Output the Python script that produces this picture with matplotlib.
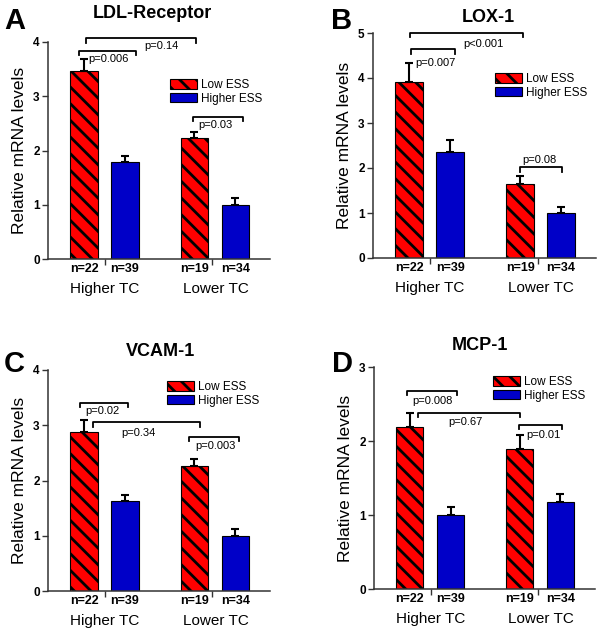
import matplotlib
matplotlib.use("Agg")
import matplotlib.pyplot as plt
import numpy as np

plt.rcParams["font.family"] = ["Liberation Sans", "DejaVu Sans"]
plt.rcParams["hatch.linewidth"] = 2.0
plt.rcParams["hatch.color"] = "black"

# data
groups = ["Higher TC", "Lower TC"]
series = ["Low ESS", "Higher ESS"]
n_low = ["n=22", "n=19"]
n_high = ["n=39", "n=34"]

titles = ["LDL-Receptor", "LOX-1", "VCAM-1", "MCP-1"]
letters = ["A", "B", "C", "D"]
ymax = [4, 5, 4, 3]

ldl_low = [3.47, 2.23]
ldl_low_err = [0.22, 0.11]
ldl_high = [1.79, 1.0]
ldl_high_err = [0.11, 0.12]

lox_low = [3.91, 1.64]
lox_low_err = [0.42, 0.18]
lox_high = [2.36, 1.0]
lox_high_err = [0.26, 0.13]

vcam_low = [2.88, 2.26]
vcam_low_err = [0.21, 0.13]
vcam_high = [1.63, 1.0]
vcam_high_err = [0.11, 0.12]

mcp_low = [2.19, 1.89]
mcp_low_err = [0.19, 0.19]
mcp_high = [1.0, 1.18]
mcp_high_err = [0.11, 0.10]

ldl_p = ["p=0.14", "p=0.006", "p=0.03"]
lox_p = ["p<0.001", "p=0.007", "p=0.08"]
vcam_p = ["p=0.02", "p=0.34", "p=0.003"]
mcp_p = ["p=0.008", "p=0.67", "p=0.01"]

low_vals = [ldl_low, lox_low, vcam_low, mcp_low]
low_errs = [ldl_low_err, lox_low_err, vcam_low_err, mcp_low_err]
high_vals = [ldl_high, lox_high, vcam_high, mcp_high]
high_errs = [ldl_high_err, lox_high_err, vcam_high_err, mcp_high_err]
pvals = [ldl_p, lox_p, vcam_p, mcp_p]

W, H = 604, 636
fig = plt.figure(figsize=(W / 100, H / 100), dpi=100)

def px(x, y):
    return x / W, 1 - y / H

# axes boxes in pixels: left, right, top, bottom
boxes = [(48, 270, 42, 259), (373, 596, 33, 258),
         (48, 270, 370, 591), (374, 595, 367, 589)]
title_pos = [(152, 14), (488, 17), (160, 352), (480, 345)]
letter_pos = [(4, 21), (331, 21), (4, 364), (332, 364)]
legend_pos = [(170, 79), (495, 73), (167, 381), (493, 376)]

# brackets: (x1, x2, top, leg bottom, text x, text y)
brackets = [
    [(0.05, 2.75, 4.07, 3.98, 1.9, 3.93), (-0.12, 1.27, 3.83, 3.76, 0.61, 3.69),
     (2.66, 3.90, 2.62, 2.54, 3.22, 2.47)],
    [(0.02, 2.78, 5.0, 4.91, 1.80, 4.76), (0.05, 1.12, 4.64, 4.53, 0.63, 4.33),
     (2.71, 3.73, 2.02, 1.91, 3.17, 2.18)],
    [(-0.1, 1.07, 3.40, 3.33, 0.46, 3.26), (0.22, 2.85, 3.06, 2.97, 1.34, 2.86),
     (2.56, 3.80, 2.79, 2.71, 3.22, 2.62)],
    [(-0.08, 1.17, 2.68, 2.62, 0.56, 2.54), (0.19, 2.70, 2.38, 2.32, 1.36, 2.26),
     (2.68, 3.73, 2.22, 2.16, 3.29, 2.08)],
]

x_low = np.array([0, 2.7])
x_high = x_low + 1
width = 0.67

for i in range(4):
    l, r, t, b = boxes[i]
    ax = fig.add_axes([l / W, 1 - b / H, (r - l) / W, (b - t) / H])
    bl = ax.bar(x_low, low_vals[i], width, color="#ff0000", edgecolor="black",
                linewidth=0.8, hatch="\\\\", label=series[0], zorder=2)
    bh = ax.bar(x_high, high_vals[i], width, color="#0000c8", edgecolor="black",
                linewidth=0.8, label=series[1], zorder=2)
    ax.errorbar(x_low, low_vals[i], yerr=[[0, 0], low_errs[i]], fmt="none",
                ecolor="black", elinewidth=1.5, capsize=3, capthick=1.5, zorder=3)
    ax.errorbar(x_high, high_vals[i], yerr=[[0, 0], high_errs[i]], fmt="none",
                ecolor="black", elinewidth=1.5, capsize=3, capthick=1.5, zorder=3)

    ax.set_xlim(-0.88, 4.55)
    ax.set_ylim(0, ymax[i])
    ax.set_yticks(range(ymax[i] + 1))
    ax.set_yticklabels([str(v) for v in range(ymax[i] + 1)], fontweight="bold", fontsize=8.5)
    ax.set_xticks([0.51, 3.14])
    ax.set_xticklabels([])
    ax.tick_params(axis="x", length=4, width=1, color="#333333")
    ax.tick_params(axis="y", length=4, width=1, color="#333333", pad=2)
    for s in ["top", "right"]:
        ax.spines[s].set_visible(False)
    for s in ["left", "bottom"]:
        ax.spines[s].set_linewidth(1.1)
        ax.spines[s].set_color("#333333")
    ax.set_ylabel("Relative mRNA levels", fontsize=12.5, labelpad=4)

    for xs, labs in [(x_low, n_low), (x_high, n_high)]:
        for xv, lab in zip(xs, labs):
            ax.annotate(lab, (xv, 0), xycoords=("data", "axes fraction"),
                        xytext=(0, -7), textcoords="offset points",
                        ha="center", va="center", fontsize=9, fontweight="bold")
    for xv, g in zip([0.51, 3.22], groups):
        ax.annotate(g, (xv, 0), xycoords=("data", "axes fraction"),
                    xytext=(0, -21.5), textcoords="offset points",
                    ha="center", va="center", fontsize=11)

    for (x1, x2, top, leg, tx, ty), p in zip(brackets[i], pvals[i]):
        ax.plot([x1, x1, x2, x2], [leg, top, top, leg], color="black",
                linewidth=1.3, clip_on=False, zorder=4)
        ax.text(tx, ty, p, ha="center", va="center", fontsize=8)

    lx, ly = legend_pos[i]
    ax.legend(handles=[bl, bh], loc="upper left", bbox_to_anchor=px(lx, ly),
              bbox_transform=fig.transFigure, frameon=False, fontsize=8.5,
              handlelength=2.3, handleheight=0.85, handletextpad=0.35,
              labelspacing=0.15, borderpad=0, borderaxespad=0)

    fig.text(*px(*title_pos[i]), titles[i], ha="center", va="center",
             fontsize=13, fontweight="bold")
    fig.text(*px(*letter_pos[i]), letters[i], ha="left", va="center",
             fontsize=21, fontweight="bold")

fig.savefig("out.png", dpi=100)
